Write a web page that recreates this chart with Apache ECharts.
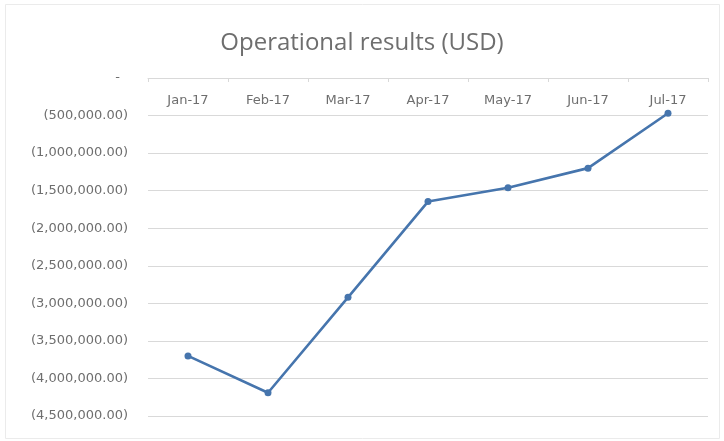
<!DOCTYPE html>
<html>
<head>
<meta charset="utf-8">
<title>Operational results (USD)</title>
<script src="https://cdn.jsdelivr.net/npm/echarts@6/dist/echarts.min.js"></script>
<style>
  html, body { margin: 0; padding: 0; background: #ffffff; }
  #chart { width: 724px; height: 441px; }
</style>
</head>
<body>
<div id="chart"></div>
<script>
// Monthly operational results, in USD
const months = ['Jan-17', 'Feb-17', 'Mar-17', 'Apr-17', 'May-17', 'Jun-17', 'Jul-17'];
const results = [-3700000, -4190000, -2920000, -1645000, -1460000, -1200000, -470000];

// Value axis range and step
const axisMin = -4500000;
const axisMax = 0;
const axisStep = 500000;

// Accounting style: negatives in parentheses, zero as a dash
function accounting(v) {
  if (v === 0) return '{z|-}';
  const abs = Math.abs(v);
  const whole = Math.floor(abs).toString().replace(/\B(?=(\d{3})+(?!\d))/g, ',');
  const text = whole + '.00';
  return v < 0 ? '(' + text + ')' : text;
}

const titleFont = '"Open Sans", "Liberation Sans", sans-serif';
const labelFont = '"DejaVu Sans", "Open Sans", sans-serif';
const textGray = '#6e6e6e';
const gridGray = '#d9d9d9';

const chart = echarts.init(document.getElementById('chart'), null, { renderer: 'canvas' });
chart.setOption({
  animation: false,
  backgroundColor: '#ffffff',
  title: {
    text: 'Operational results (USD)',
    left: 'center',
    top: 26,
    textStyle: { fontFamily: titleFont, fontSize: 24, fontWeight: 'normal', color: textGray }
  },
  graphic: [{
    type: 'rect',
    shape: { x: 5.5, y: 4.5, width: 714, height: 434 },
    style: { fill: 'none', stroke: '#ebebeb', lineWidth: 1 },
    silent: true,
    z: -1
  }],
  grid: { left: 148, right: 16, top: 78, bottom: 25, containLabel: false },
  xAxis: {
    type: 'category',
    position: 'top',
    data: months,
    boundaryGap: true,
    axisLine: { show: true, lineStyle: { color: gridGray, width: 1 } },
    axisTick: { show: true, inside: true, length: 4, lineStyle: { color: gridGray } },
    axisLabel: {
      inside: true,
      margin: 16,
      fontFamily: labelFont,
      fontSize: 13,
      color: textGray
    },
    splitLine: { show: false }
  },
  yAxis: {
    type: 'value',
    min: axisMin,
    max: axisMax,
    interval: axisStep,
    axisLine: { show: false },
    axisTick: { show: false },
    axisLabel: {
      margin: 20,
      fontFamily: labelFont,
      fontSize: 13,
      color: textGray,
      formatter: accounting,
      rich: { z: { fontFamily: labelFont, fontSize: 13, color: textGray, padding: [0, 8, 0, 0] } }
    },
    splitLine: { show: true, lineStyle: { color: gridGray, width: 1 } }
  },
  series: [{
    type: 'line',
    data: results,
    symbol: 'circle',
    symbolSize: 7,
    lineStyle: { color: '#4675ad', width: 2.6 },
    itemStyle: { color: '#4675ad' }
  }]
});
</script>
</body>
</html>
